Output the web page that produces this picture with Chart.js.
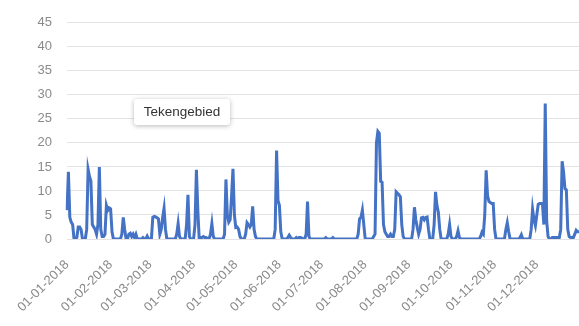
<!DOCTYPE html>
<html>
<head>
<meta charset="utf-8">
<script src="https://cdn.jsdelivr.net/npm/chart.js@4.4.1/dist/chart.umd.min.js"></script>
<style>
  html, body { margin: 0; padding: 0; background: #ffffff; overflow: hidden; }
  #wrap { position: relative; width: 579px; height: 326px; }
  #c { position: absolute; left: 0; top: 0; }
  #hint {
    position: absolute; left: 134px; top: 99px; width: 96px; height: 26px;
    background: #ffffff; border-radius: 3px;
    box-shadow: 0 1px 5px rgba(0,0,0,0.28);
    font-family: "Liberation Sans", Arial, sans-serif; font-size: 13.5px; color: #333333;
    line-height: 26px; text-align: center; white-space: nowrap;
  }
</style>
</head>
<body>
<div id="wrap">
  <canvas id="c" width="579" height="326"></canvas>
  <div id="hint">Tekengebied</div>
</div>
<script>
// Daily values for 2018, one array per month
const jan = [6,14,4.5,3.5,3,0,0,0.3,2.5,2.5,2,0,0,0,2,14.5,13,12,3,2.5,2,1,3,15,2,0.5,0.5,1,7,6,6.5];
const feb = [6.3,1.5,0,0,0,0,0,0,1,4.5,2,0,0,1,1.2,0.5,1,0.3,1,0,0,0,0,0.3,0,0,0.6,0];
const mar = [0,0,4.5,4.7,4.6,4.4,4.2,1,2,4.5,6.4,2,0,0,0,0,0,0,0,1,3.2,0.5,0,0,0,0,3,9.2,0.5,0,0];
const apr = [0,3,14.4,6,0,0.3,0.3,0.5,0.3,0.3,0,0,1,3.2,0.5,0,0,0,0,0,0,0,1,12.4,5,3.5,4,9,14.6,5];
const may = [2.4,2.5,2,0.5,0,0,0,1,3.4,3,2.5,3,6.8,2,0.5,0,0,0,0,0,0,0,0,0,0,0,0,0,2,18.4,8];
const jun = [7,1.5,0,0,0,0,0.3,0.8,0.3,0,0,0,0.3,0,0.3,0.3,0.2,0,0,1,7.8,0.5,0,0,0,0,0,0,0,0];
const jul = [0,0,0,0.3,0,0,0,0,0.3,0,0,0,0,0,0,0,0,0,0,0,0,0,0,0,0,0,1,4.2,4.5,6,3];
const aug = [0,0,0,0,0,0,0.5,1,20,22.4,22,12,11.8,3,1.5,1,0.5,0.5,1,0.5,0.5,2,9.8,9.5,9.2,8.8,3,0.5,0,0,0];
const sep = [0,0,0,2,6.6,4,2.4,1,2,4.4,4.5,4,4.5,4.6,2,0,0,0,3,9.8,7,5.6,2,0,0,0,0,0,1,3];
const oct = [0.5,0,0,0,0.5,1.7,0.3,0,0,0,0,0,0,0,0,0,0,0,0,0,0,0.5,1.4,1,5,14.3,9,7.8,7.6,7.4,7.4];
const nov = [2,0,0,0,0,0,0,0,2,3.4,1.5,0,0,0,0,0,0,0,0.3,0.9,0,0,0,0,0,0,2,6.2,4,2.8];
const dec = [5,7.2,7.4,7.4,7.4,3,28.2,3.8,0.5,0,0,0.3,0.3,0.3,0.3,0.3,0.3,2,16.2,14,10.5,10.2,2,0.5,0.3,0.3,0.3,1,1.8,1.5,1.5];

const months = [jan, feb, mar, apr, may, jun, jul, aug, sep, oct, nov, dec];
const yearLabel = '2018';
const yTicks = [0, 5, 10, 15, 20, 25, 30, 35, 40, 45];

// Category labels dd-mm-yyyy, one per day
const dates = [];
const values = [];
months.forEach((m, mi) => {
  m.forEach((v, di) => {
    const dd = String(di + 1).padStart(2, '0');
    const mm = String(mi + 1).padStart(2, '0');
    dates.push(dd + '-' + mm + '-' + yearLabel);
    values.push(v);
  });
});

const grey = '#8a8a8a';
const font = { family: '"Liberation Sans", Arial, sans-serif', size: 13 };

new Chart(document.getElementById('c'), {
  type: 'line',
  data: {
    labels: dates,
    datasets: [{
      data: values,
      borderColor: '#4472C4',
      borderWidth: 3,
      pointRadius: 0,
      tension: 0,
      fill: false
    }]
  },
  options: {
    responsive: false,
    animation: false,
    devicePixelRatio: 1,
    layout: { padding: { top: 14, right: 0, bottom: 0, left: 0 } },
    plugins: { legend: { display: false }, tooltip: { enabled: false } },
    scales: {
      x: {
        type: 'category',
        grid: { display: false },
        border: { display: false },
        ticks: {
          autoSkip: false,
          minRotation: 45,
          maxRotation: 45,
          padding: 10,
          color: grey,
          font: font,
          callback: function (value) {
            const lab = this.getLabelForValue(value);
            return lab.startsWith('01-') ? lab : null;
          }
        },
        afterFit: function (scale) {
          scale.height = 87;
          scale.paddingRight = 0;
        }
      },
      y: {
        min: 0,
        max: 45,
        afterBuildTicks: function (scale) {
          scale.ticks = yTicks.map(v => ({ value: v }));
        },
        grid: { color: '#e3e3e3', lineWidth: 1, drawTicks: false },
        border: { display: false },
        ticks: { color: grey, font: font, padding: 15 },
        afterFit: function (scale) { scale.width = 67; }
      }
    }
  }
});
</script>
</body>
</html>
